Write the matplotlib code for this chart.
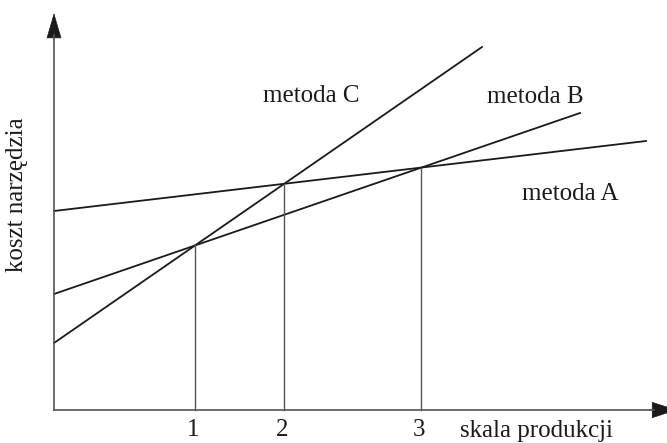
import numpy as np
import matplotlib.pyplot as plt
from matplotlib.patches import FancyArrowPatch

plt.rcParams['font.family'] = ['Liberation Serif', 'DejaVu Serif']

# linie kosztu: poczatek i koniec (skala produkcji, koszt narzedzia)
methods = ['metoda A', 'metoda B', 'metoda C']
x_start = [0, 0, 0]
x_end = [592, 526, 428]
y_start = [199, 116, 67]
y_end = [269, 297, 363]
tick_labels = ['1', '2', '3']
# pary przeciec: B-C -> 1, A-C -> 2, A-B -> 3
pairs = [(1, 2), (0, 2), (0, 1)]

fig = plt.figure(figsize=(6.67, 4.43), dpi=100)
ax = fig.add_axes([0, 0, 1, 1])
ax.set_xlim(-54, 613)
ax.set_ylim(-33, 410)
ax.axis('off')

txt = '#1a1a1a'
fs = 18

slope = [(y_end[i] - y_start[i]) / (x_end[i] - x_start[i]) for i in range(3)]
for i in range(3):
    ax.plot([x_start[i], x_end[i]], [y_start[i], y_end[i]], color=txt, lw=1.3)

for (i, j), lab in zip(pairs, tick_labels):
    xi = (y_start[j] - y_start[i]) / (slope[i] - slope[j])
    yi = y_start[i] + slope[i] * xi
    ax.plot([xi, xi], [0, yi], color='#555555', lw=1.0)
    ax.text(xi - 2, -20, lab, ha='center', va='center', fontsize=fs, color=txt)

# osie ze strzalkami
axis_col = '#555555'
ax.plot([0, 0], [0, 375], color=axis_col, lw=1.2)
ax.plot([0, 600], [0, 0], color=axis_col, lw=1.2)
ax.add_patch(FancyArrowPatch((0, 370), (0, 397), arrowstyle='-|>,head_length=17,head_width=5',
                             mutation_scale=1, color=txt, lw=0.5, shrinkA=0, shrinkB=0,
                             clip_on=False))
ax.add_patch(FancyArrowPatch((595, 0), (623, 0), arrowstyle='-|>,head_length=17,head_width=5.5',
                             mutation_scale=1, color=txt, lw=0.5, shrinkA=0, shrinkB=0,
                             clip_on=False))

ax.text(257, 314, methods[2], ha='center', va='center', fontsize=fs, color=txt)
ax.text(481, 313, methods[1], ha='center', va='center', fontsize=fs, color=txt)
ax.text(516, 216, methods[0], ha='center', va='center', fontsize=fs, color=txt)

ax.text(483, -21, 'skala produkcji', ha='center', va='center', fontsize=fs, color=txt)
ax.text(-37, 215, 'koszt narzędzia', ha='center', va='center', rotation=90,
        fontsize=fs, color=txt)

plt.savefig('out.png', dpi=100)
